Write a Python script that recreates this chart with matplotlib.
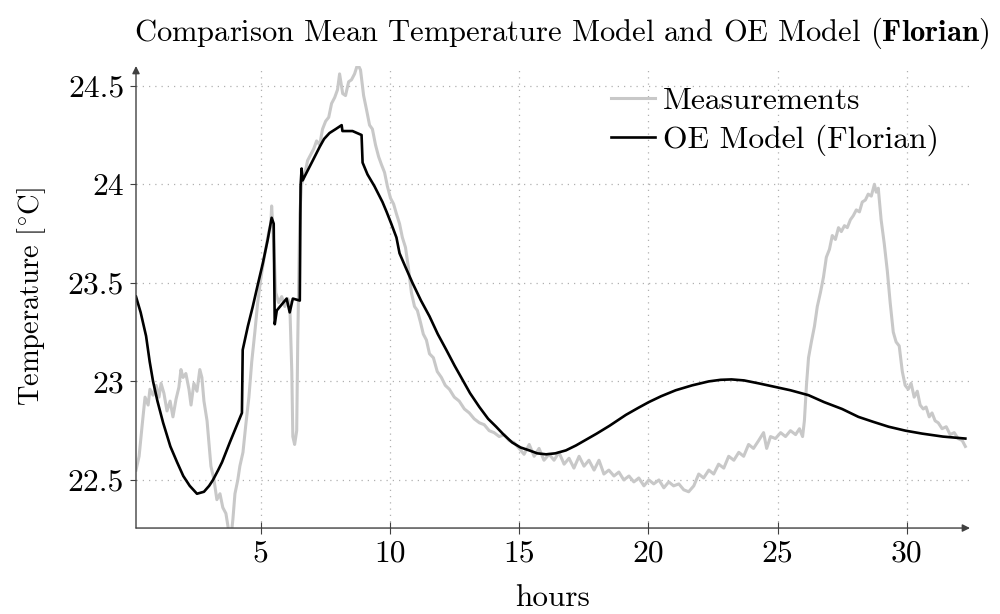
import matplotlib
matplotlib.use("Agg")
import matplotlib.pyplot as plt

meas_h = [0.17, 0.29, 0.41, 0.52, 0.64, 0.71, 0.83, 0.95, 1.06, 1.14, 1.25, 1.37, 1.49, 1.60, 1.72,
          1.83, 1.91, 1.99, 2.10, 2.22, 2.30, 2.41, 2.53, 2.64, 2.72, 2.80, 2.92, 3.00, 3.07, 3.19,
          3.30, 3.42, 3.53, 3.65, 3.76, 3.84, 3.92, 4.00, 4.11, 4.19, 4.31, 4.42, 4.54, 4.65, 4.77,
          4.88, 5.00, 5.12, 5.23, 5.31, 5.39, 5.42, 5.50, 5.58, 5.69, 5.81, 5.93, 6.04, 6.12, 6.20,
          6.24, 6.31, 6.39, 6.43, 6.51, 6.58, 6.70, 6.81, 6.93, 7.05, 7.16, 7.28, 7.39, 7.51, 7.63,
          7.74, 7.86, 7.97, 8.05, 8.17, 8.28, 8.40, 8.51, 8.63, 8.75, 8.86, 8.98, 9.09, 9.21, 9.32,
          9.44, 9.56, 9.67, 9.79, 9.90, 10.02, 10.14, 10.25, 10.37, 10.48, 10.60, 10.71, 10.83, 10.95,
          11.06, 11.18, 11.29, 11.41, 11.53, 11.68, 11.83, 11.99, 12.14, 12.30, 12.49, 12.68, 12.88,
          13.07, 13.26, 13.46, 13.65, 13.84, 14.03, 14.23, 14.42, 14.61, 14.80, 15.00, 15.19, 15.39,
          15.58, 15.77, 15.96, 16.16, 16.35, 16.54, 16.74, 16.93, 17.12, 17.32, 17.51, 17.70, 17.90,
          18.09, 18.28, 18.47, 18.67, 18.86, 19.05, 19.25, 19.44, 19.63, 19.83, 20.02, 20.21, 20.41,
          20.60, 20.79, 20.98, 21.18, 21.37, 21.56, 21.76, 21.95, 22.14, 22.34, 22.53, 22.72, 22.92,
          23.11, 23.31, 23.50, 23.69, 23.88, 24.07, 24.27, 24.46, 24.58, 24.73, 24.92, 25.12, 25.31,
          25.50, 25.70, 25.85, 25.97, 26.04, 26.12, 26.20, 26.31, 26.43, 26.54, 26.66, 26.78, 26.89,
          27.01, 27.12, 27.24, 27.36, 27.47, 27.59, 27.70, 27.82, 27.93, 28.05, 28.17, 28.28, 28.40,
          28.51, 28.63, 28.75, 28.82, 28.90, 29.01, 29.13, 29.25, 29.36, 29.48, 29.59, 29.71, 29.83,
          29.94, 30.06, 30.17, 30.29, 30.41, 30.52, 30.64, 30.75, 30.87, 30.98, 31.10, 31.22, 31.37,
          31.53, 31.68, 31.84, 31.99, 32.15, 32.27]
meas_t = [22.55, 22.62, 22.78, 22.92, 22.88, 22.96, 22.93, 22.98, 22.92, 22.99, 22.94, 22.85, 22.90, 22.82, 22.91,
          22.97, 23.06, 23.02, 23.04, 22.96, 22.88, 22.99, 22.95, 23.06, 23.02, 22.90, 22.80, 22.68, 22.57, 22.50,
          22.40, 22.43, 22.36, 22.33, 22.24, 22.20, 22.30, 22.43, 22.50, 22.57, 22.64, 22.78, 22.92, 23.10, 23.25,
          23.40, 23.52, 23.62, 23.70, 23.76, 23.80, 23.89, 23.70, 23.45, 23.40, 23.43, 23.38, 23.42, 23.40, 23.05,
          22.72, 22.68, 22.75, 23.20, 23.85, 24.00, 24.05, 24.12, 24.15, 24.18, 24.22, 24.20, 24.28, 24.32, 24.34,
          24.41, 24.44, 24.48, 24.56, 24.46, 24.45, 24.52, 24.53, 24.56, 24.61, 24.58, 24.45, 24.38, 24.30, 24.28,
          24.20, 24.14, 24.10, 24.06, 23.99, 23.93, 23.90, 23.85, 23.80, 23.73, 23.68, 23.58, 23.45, 23.38,
          23.36, 23.30, 23.24, 23.21, 23.14, 23.12, 23.05, 23.02, 22.98, 22.96, 22.92, 22.90, 22.86,
          22.84, 22.81, 22.79, 22.78, 22.75, 22.74, 22.72, 22.73, 22.70, 22.69, 22.66, 22.63, 22.68,
          22.62, 22.66, 22.60, 22.63, 22.60, 22.64, 22.58, 22.61, 22.56, 22.62, 22.57, 22.60, 22.55,
          22.60, 22.53, 22.55, 22.52, 22.54, 22.50, 22.52, 22.49, 22.51, 22.47, 22.50, 22.48, 22.50,
          22.46, 22.49, 22.47, 22.48, 22.45, 22.44, 22.47, 22.53, 22.51, 22.55, 22.53, 22.58, 22.56,
          22.62, 22.60, 22.64, 22.62, 22.68, 22.66, 22.70, 22.74, 22.66, 22.72, 22.71, 22.74, 22.72,
          22.75, 22.73, 22.76, 22.72, 22.80, 22.98, 23.12, 23.20, 23.28, 23.38, 23.45, 23.53, 23.63,
          23.67, 23.74, 23.72, 23.78, 23.76, 23.79, 23.78, 23.82, 23.84, 23.87, 23.86, 23.91, 23.92,
          23.95, 23.94, 24.00, 23.96, 23.98, 23.82, 23.70, 23.56, 23.40, 23.25, 23.20, 23.18, 23.05,
          22.98, 22.96, 22.99, 22.92, 22.95, 22.88, 22.86, 22.87, 22.82, 22.84, 22.80, 22.79, 22.76,
          22.77, 22.73, 22.74, 22.71, 22.70, 22.67]

# OE model output
model_h = [0.17, 0.35, 0.56, 0.70, 0.83, 1.00, 1.22, 1.50, 1.76, 2.00, 2.25, 2.53, 2.80, 3.00, 3.15,
           3.35, 3.50, 3.65, 3.80, 4.05, 4.27, 4.30, 4.50, 4.69, 4.90, 5.08, 5.27, 5.42, 5.50, 5.54,
           5.62, 6.00, 6.12, 6.24, 6.51, 6.54, 6.58, 6.62, 7.01, 7.28, 7.45, 7.66, 7.90, 8.13, 8.16,
           8.55, 8.90, 8.94, 9.13, 9.40, 9.71, 9.87, 10.05, 10.25, 10.37, 10.60, 10.87, 11.20, 11.53,
           11.85, 12.18, 12.50, 12.80, 13.10, 13.46, 13.80, 14.11, 14.40, 14.73, 15.05, 15.39, 15.70,
           16.04, 16.40, 16.81, 17.20, 17.60, 18.00, 18.50, 19.13, 19.60, 20.02, 20.50, 21.06, 21.70,
           22.34, 22.80, 23.22, 23.70, 24.27, 24.80, 25.50, 26.20, 26.80, 27.50, 28.13, 28.70, 29.30,
           29.95, 30.60, 31.40, 32.27]
model_t = [23.43, 23.35, 23.23, 23.10, 23.00, 22.90, 22.79, 22.67, 22.59, 22.52, 22.47, 22.43, 22.44, 22.47, 22.50,
           22.55, 22.59, 22.64, 22.69, 22.77, 22.84, 23.16, 23.28, 23.38, 23.50, 23.60, 23.72, 23.83, 23.80, 23.29,
           23.36, 23.42, 23.35, 23.42, 23.41, 23.99, 24.08, 24.02, 24.12, 24.19, 24.23, 24.26, 24.28, 24.30, 24.27,
           24.27, 24.25, 24.11, 24.05, 23.99, 23.91, 23.86, 23.80, 23.73, 23.65, 23.58, 23.50, 23.41, 23.33,
           23.24, 23.16, 23.08, 23.01, 22.94, 22.87, 22.81, 22.77, 22.73, 22.69, 22.665, 22.65, 22.635,
           22.63, 22.635, 22.65, 22.675, 22.705, 22.735, 22.775, 22.83, 22.865, 22.895, 22.925, 22.955, 22.98,
           23.00, 23.008, 23.01, 23.005, 22.99, 22.975, 22.955, 22.93, 22.895, 22.86, 22.82, 22.795, 22.77,
           22.75, 22.735, 22.72, 22.71]

xticks = [5, 10, 15, 20, 25, 30]
yticks = [22.5, 23, 23.5, 24, 24.5]
ytick_labels = ["22.5", "23", "23.5", "24", "24.5"]

plt.rcParams['font.family'] = 'cmr10'
plt.rcParams['mathtext.fontset'] = 'cm'
plt.rcParams['axes.unicode_minus'] = False

fig = plt.figure(figsize=(10, 6.14), dpi=100)
ax = fig.add_axes([0.136, 0.140, 0.834, 0.7525])

ax.plot(meas_h, meas_t, color='#c8c8c8', lw=2.2, label='Measurements')
ax.plot(model_h, model_t, color='black', lw=1.9, label='OE Model (Florian)')

ax.set_xlim(0.17, 32.45)
ax.set_ylim(22.256, 24.6)
ax.set_xticks(xticks)
ax.set_yticks(yticks)
ax.set_yticklabels(ytick_labels)
ax.grid(True, linestyle=(0, (1, 4)), color='#b0b0b0', lw=0.9)

for s in ['top', 'right', 'left', 'bottom']:
    ax.spines[s].set_visible(False)
axc = '#404040'
ax.annotate('', xy=(1.0, 0), xytext=(0, 0), xycoords='axes fraction',
            arrowprops=dict(arrowstyle='-|>', color=axc, lw=1.0, mutation_scale=11, shrinkA=0, shrinkB=0))
ax.annotate('', xy=(0, 1.0), xytext=(0, 0), xycoords='axes fraction',
            arrowprops=dict(arrowstyle='-|>', color=axc, lw=1.0, mutation_scale=11, shrinkA=0, shrinkB=0))

ax.tick_params(axis='x', direction='inout', length=9, width=0.8, color=axc, labelsize=22.7, pad=4)
ax.tick_params(axis='y', direction='out', length=4.5, width=0.8, color=axc, labelsize=22.7, pad=4)

ax.set_xlabel('hours', fontsize=22.5, labelpad=12)
ax.set_ylabel(r'Temperature [$^{\circ}$C]', fontsize=20.5, labelpad=14)
ax.set_title(r'Comparison Mean Temperature Model and OE Model ($\mathbf{Florian}$)', fontsize=22.0,
             pad=18, x=0.51)

ax.legend(loc='upper right', frameon=False, fontsize=22.7, handlelength=1.4, handletextpad=0.25,
          borderaxespad=0.2, labelspacing=0.3, bbox_to_anchor=(0.985, 0.995))

fig.savefig('out.png', dpi=100)
